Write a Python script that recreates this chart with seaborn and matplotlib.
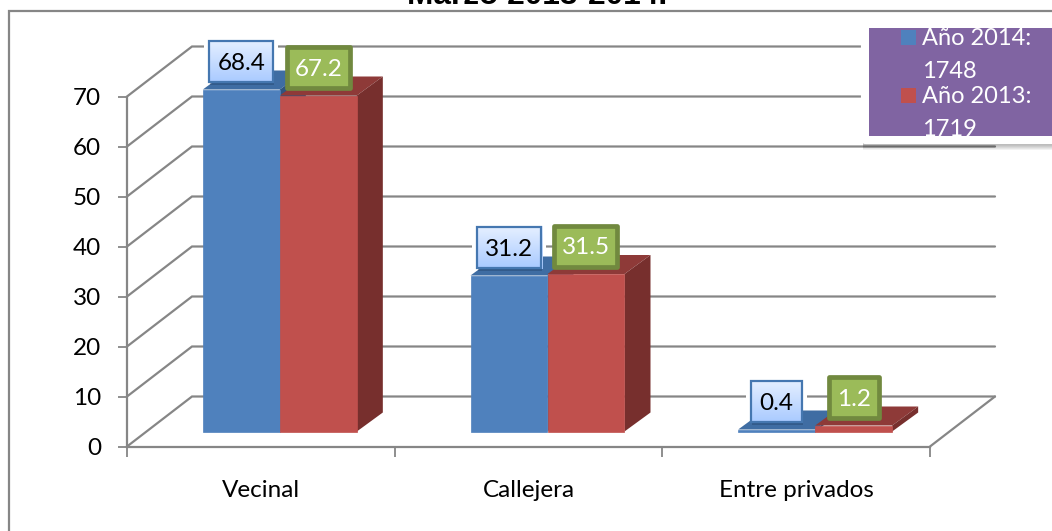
import numpy as np
import pandas as pd
import seaborn as sns
import matplotlib
matplotlib.use("Agg")
import matplotlib.pyplot as plt
from matplotlib.patches import Polygon, FancyBboxPatch, Rectangle
from matplotlib.lines import Line2D
from matplotlib.transforms import Bbox, TransformedBbox

categories = ["Vecinal", "Callejera", "Entre privados"]
values_2014 = [68.4, 31.2, 0.4]
values_2013 = [67.2, 31.5, 1.2]
series_names = ["Año 2014", "Año 2013"]
series_totals = [1748, 1719]
y_ticks = [0, 10, 20, 30, 40, 50, 60, 70]
title = "Marzo 2013-2014."

BLUE, BLUE_TOP = "#4F81BD", "#3F6DA3"
RED, RED_TOP, RED_SIDE = "#C0504D", "#8E3A38", "#772F2D"
BLUE_SIDE = "#2F5580"
GREY = "#868686"
PURPLE = "#8064A2"
GREEN, GREEN_EDGE = "#9BBB59", "#71893F"
FS = 17.5

W, H = 1052, 531
sns.set_theme(style="white")
plt.rcParams["font.family"] = ["Lato", "DejaVu Sans"]

fig = plt.figure(figsize=(W / 100, H / 100), dpi=100, facecolor="white")
# plot box: x 127..930 px, y 96.5..446.5 px (top-left origin)
ax = fig.add_axes([127 / W, 1 - 446.5 / H, 803 / W, 350 / H])

df = pd.DataFrame({
    "cat": categories * 2,
    "val": values_2014 + values_2013,
    "serie": [series_names[0]] * 3 + [series_names[1]] * 3,
})
sns.barplot(data=df, x="cat", y="val", hue="serie", hue_order=series_names,
            palette=[BLUE, RED], width=0.5753, gap=0, saturation=1,
            legend=False, ax=ax, linewidth=0)
ax.set_xlim(-0.5, 2.5)
ax.set_ylim(0, 70)
ax.set_xlabel("")
ax.set_ylabel("")
ax.patch.set_alpha(0)

SX = 803 / 3   # px per category
SY = 5.0       # px per unit
dx = lambda p: p / SX
dy = lambda p: p / SY

# back wall + gridlines
wall_x, wall_y = dx(65), dy(50)
for v in y_ticks:
    ax.plot([-0.5, -0.5 + wall_x, 2.5 + wall_x], [v, v + wall_y, v + wall_y],
            color=GREY, lw=1.6, clip_on=False, zorder=1, solid_joinstyle="miter")
ax.plot([2.5, 2.5 + wall_x], [0, wall_y], color=GREY, lw=1.6, clip_on=False, zorder=1)

# 3D bars: the front faces come from seaborn, shifted onto the floor
bar_dx, bar_dy = dx(19), dy(15)
dep_x, dep_y = dx(26), dy(19)
tops = {0: BLUE_TOP, 1: RED_TOP}
sides = {0: BLUE_SIDE, 1: RED_SIDE}
label_pos = []
for i, p in enumerate(ax.patches[:6]):
    s = i // 3
    p.set_x(p.get_x() + bar_dx)
    p.set_y(p.get_y() + bar_dy)
    p.set_clip_on(False)
    p.set_edgecolor(p.get_facecolor())
    p.set_linewidth(0.5)
    p.set_zorder(3.1 + s)
    x0, x1 = p.get_x(), p.get_x() + p.get_width()
    y0, y1 = p.get_y(), p.get_y() + p.get_height()
    ax.add_patch(Polygon([(x0, y1), (x1, y1), (x1 + dep_x, y1 + dep_y), (x0 + dep_x, y1 + dep_y)],
                         closed=True, fc=tops[s], ec="none", clip_on=False, zorder=3 + s))
    ax.add_patch(Polygon([(x1, y0), (x1, y1), (x1 + dep_x, y1 + dep_y), (x1 + dep_x, y0 + dep_y)],
                         closed=True, fc=sides[s], ec="none", clip_on=False, zorder=3 + s))
    label_pos.append(((x0 + x1) / 2, y1 + dy(28), p.get_height(), s))

# data labels
grad = np.linspace(0, 1, 64)[:, None]
c_top, c_bot = np.array([0.90, 0.94, 1.0]), np.array([0.66, 0.79, 1.0])
grad_img = (c_top[None, :] * (1 - grad) + c_bot[None, :] * grad)[:, None, :]
for cx, cy, val, s in label_pos:
    txt = f"{val:.1f}"
    wide = val >= 10
    if s == 0:
        w, h = (66 if wide else 53), 43
        ax.add_patch(Rectangle((cx - dx(w / 2 + 4), cy - dy(h / 2 + 4)), dx(w + 8), dy(h + 8),
                               fc="white", ec="none", clip_on=False, zorder=2))
        ax.add_patch(FancyBboxPatch((cx - dx(w / 2 - 2), cy - dy(h / 2 + 2)), dx(w - 2), dy(h),
                                    boxstyle="square,pad=0", fc="#1F3A60", alpha=0.35, ec="none",
                                    clip_on=False, zorder=6))
        ax.imshow(grad_img, extent=(cx - dx(w / 2), cx + dx(w / 2), cy - dy(h / 2), cy + dy(h / 2)),
                  aspect="auto", origin="upper", clip_on=False, zorder=6.1, interpolation="bilinear")
        ax.add_patch(Rectangle((cx - dx(w / 2 - 1), cy - dy(h / 2 - 1)), dx(w - 2), dy(h - 2),
                               fc="none", ec="#4577B0", lw=1.6, clip_on=False, zorder=6.2))
        ax.text(cx, cy, txt, ha="center", va="center_baseline", fontsize=FS, color="black",
                zorder=7, clip_on=False)
    else:
        w, h = (68 if wide else 55), 46
        ax.add_patch(Rectangle((cx - dx(w / 2 - 2.5), cy - dy(h / 2 - 2.5)), dx(w - 5), dy(h - 5),
                               fc=GREEN, ec=GREEN_EDGE, lw=3.4, clip_on=False, zorder=6.2,
                               joinstyle="round"))
        ax.text(cx, cy, txt, ha="center", va="center_baseline", fontsize=FS, color="white",
                zorder=7, clip_on=False)
ax.set_xlim(-0.5, 2.5)
ax.set_ylim(0, 70)

# axes
sns.despine(ax=ax, top=True, right=True)
for side in ("left", "bottom"):
    ax.spines[side].set_color(GREY)
    ax.spines[side].set_linewidth(1.6)
    ax.spines[side].set_zorder(2)
ax.set_yticks(y_ticks)
ax.set_xticks(range(3))
ax.set_xticklabels(categories)
ax.set_xticks([-0.5, 0.5, 1.5, 2.5], minor=True)
ax.tick_params(axis="y", length=6.5, width=1.3, color=GREY, labelsize=FS, pad=12,
               labelcolor="black", left=True)
ax.tick_params(axis="x", which="major", length=0, labelsize=FS, pad=24, labelcolor="black")
ax.tick_params(axis="x", which="minor", length=7, width=1.3, color=GREY, bottom=True)
ax.grid(False)

# helpers in figure pixels
fx = lambda p: p / W
fy = lambda p: 1 - p / H

# outer chart frame (cut by the image on the right and at the bottom)
fig.add_artist(Line2D([fx(9.5), fx(9.5), fx(W)], [fy(H), fy(11), fy(11)], color=GREY, lw=1.6,
                      zorder=-1, solid_joinstyle="miter"))

# title, cut off by the top of the image
fig.text(fx(537), fy(3.5), title, ha="center", va="baseline", fontsize=22.75, fontweight="bold",
         family="Liberation Sans", color="black")

# legend
for k in range(7):
    fig.add_artist(Rectangle((fx(863), fy(144 + k)), (W - 863) / W, (k + 1) / H,
                             transform=fig.transFigure, fc="black", alpha=0.05, ec="none", zorder=4))
fig.add_artist(FancyBboxPatch((fx(863), fy(142)), (W - 860) / W, 120 / H, transform=fig.transFigure,
                              boxstyle="round,pad=0,rounding_size=0.003", fc="white", ec="white",
                              lw=3, zorder=5, mutation_aspect=1))
fig.add_artist(Rectangle((fx(869), fy(136)), (W - 869) / W, 108 / H, transform=fig.transFigure,
                         fc=PURPLE, ec="none", zorder=6))
clip = TransformedBbox(Bbox([[fx(869), fy(136)], [1, fy(28)]]), fig.transFigure)
rows = [(45, f"{series_names[0]}:"), (78, f"{series_totals[0]}"),
        (103, f"{series_names[1]}:"), (136, f"{series_totals[1]}")]
for base, s in rows:
    t = fig.text(fx(922), fy(base), s, ha="left", va="baseline", fontsize=17, color="white", zorder=7)
    t.set_clip_box(clip)
    t.set_clip_on(True)
for top, col in ((30, BLUE), (88, RED)):
    fig.add_artist(Rectangle((fx(901), fy(top + 15)), 15 / W, 15 / H, transform=fig.transFigure,
                             fc=col, ec="none", zorder=7))

fig.savefig("out.png", dpi=100, facecolor="white")
